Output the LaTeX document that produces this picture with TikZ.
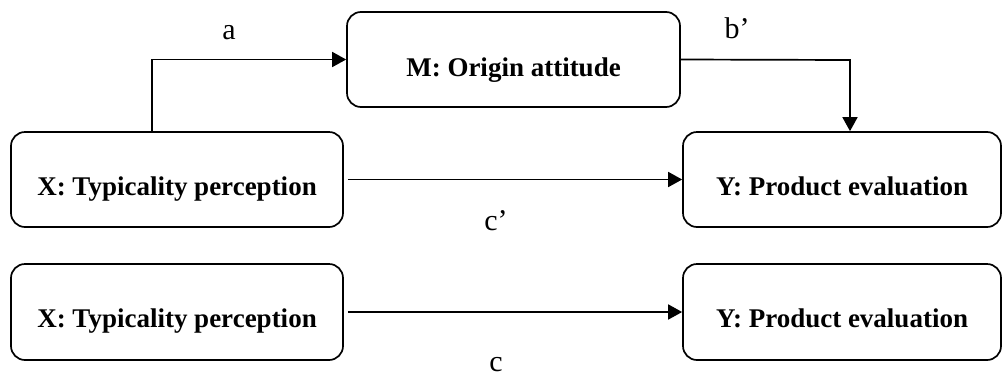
\documentclass[tikz,border=0pt]{standalone}
\usepackage{fontspec}
\setmainfont{Liberation Serif}
\usetikzlibrary{arrows.meta,calc}
\begin{document}
\begin{tikzpicture}[x=1pt,y=-1pt,
  box/.style={draw,line width=1.7pt,rounded corners=14pt,inner sep=0pt},
  boxtext/.style={anchor=base,font=\fontsize{27}{31}\selectfont\bfseries,inner sep=0pt},
  lab/.style={anchor=base,font=\fontsize{30}{34}\selectfont,inner sep=0pt},
  conn/.style={line width=1.7pt,-{Triangle[length=14pt,width=15pt]}}]
\useasboundingbox (0,0) rectangle (1003,378);
% boxes
\node[box,minimum width=333pt,minimum height=95pt] (m)  at (513.5,59.5) {};
\node[box,minimum width=332pt,minimum height=95pt] (x1) at (177,179.5) {};
\node[box,minimum width=318pt,minimum height=95pt] (y1) at (842,179.5) {};
\node[box,minimum width=332pt,minimum height=96pt] (x2) at (177,312) {};
\node[box,minimum width=318pt,minimum height=96pt] (y2) at (842,312) {};
% texts
\node[boxtext] (tm)  at ($(m.center)+(0,16.5)$)  {M: Origin attitude};
\node[boxtext] (tx1) at ($(x1.center)+(0,15.5)$) {X: Typicality perception};
\node[boxtext] (ty1) at ($(y1.center)+(0,15.5)$) {Y: Product evaluation};
\node[boxtext] (tx2) at ($(x2.center)+(0,15.5)$) {X: Typicality perception};
\node[boxtext] (ty2) at ($(y2.center)+(0,15.5)$) {Y: Product evaluation};
% connectors
\coordinate (ka) at (152,60);
\coordinate (kb) at (850,60);
\draw[conn] (x1.north -| ka) |- (m.west);
\draw[conn] (m.east) -- (kb) -- (kb |- y1.north);
\draw[conn,shorten <=4pt] (x1.east) -- (y1.west);
\draw[conn,shorten <=4pt] (x2.east) -- (y2.west);
% labels
\node[lab] (la) at (229,39) {a};
\node[lab] (lb) at (737,38) {b’};
\node[lab] (lc1) at (496,230) {c’};
\node[lab] (lc) at (496,371) {c};
\end{tikzpicture}
\end{document}
